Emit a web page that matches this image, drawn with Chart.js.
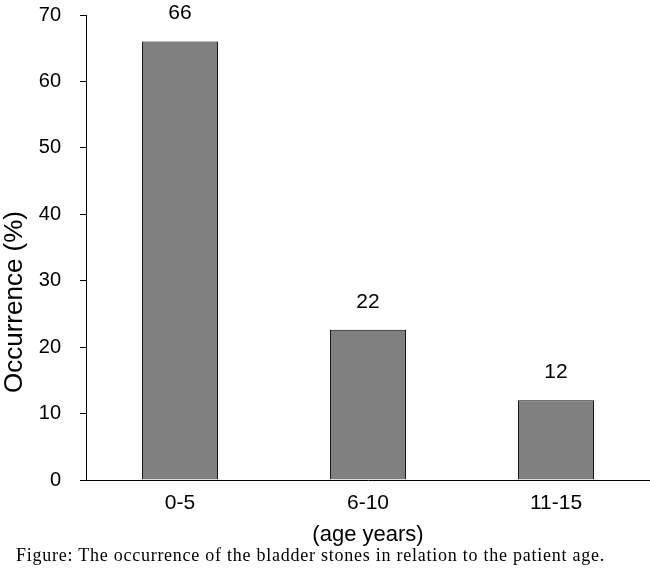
<!DOCTYPE html>
<html>
<head>
<meta charset="utf-8">
<script src="https://cdn.jsdelivr.net/npm/chart.js@4.4.1/dist/chart.umd.min.js"></script>
<style>
  body { margin: 0; background: #fff; }
  #wrap { position: relative; width: 650px; height: 572px; }
  #caption {
    position: absolute; left: 16px; top: 545px;
    font-family: "Liberation Serif", serif; font-size: 18px; line-height: 20px;
    letter-spacing: 0.75px;
    color: #000; white-space: nowrap;
  }
</style>
</head>
<body>
<div id="wrap">
  <canvas id="myChart" width="650" height="572"></canvas>
  <div id="caption">Figure: The occurrence of the bladder stones in relation to the patient age.</div>
</div>
<script>
const categories = ["0-5", "6-10", "11-15"];
const occurrence = [66, 22.6, 12]; // bar heights
const valueLabels = ["66", "22", "12"]; // numbers printed above bars
const yTicks = [0, 10, 20, 30, 40, 50, 60, 70];

// numbers above the bars + rotated y title
const labelPlugin = {
  id: "barLabels",
  afterDatasetsDraw(chart) {
    const ctx = chart.ctx;
    const meta = chart.getDatasetMeta(0);
    ctx.save();
    ctx.fillStyle = "#000";
    ctx.font = "21px 'Liberation Sans', Arial";
    ctx.textAlign = "center";
    ctx.textBaseline = "middle";
    meta.data.forEach((bar, i) => {
      ctx.fillText(valueLabels[i], bar.x, bar.y - 28);
    });
    // y axis title sits lower than the axis centre in the original
    ctx.translate(15, 302);
    ctx.rotate(-Math.PI / 2);
    ctx.font = "26px 'Liberation Sans', Arial";
    ctx.fillText("Occurrence (%)", 0, 0);
    ctx.restore();
  },
};

const ctx = document.getElementById("myChart");
const myChart = new Chart(ctx, {
  type: "bar",
  data: {
    labels: categories,
    datasets: [
      {
        data: occurrence,
        backgroundColor: "#808080",
        borderColor: "#000000",
        borderWidth: 1,
        barPercentage: 0.405,
        categoryPercentage: 1,
      },
    ],
  },
  options: {
    responsive: false,
    animation: false,
    layout: {
      padding: { top: 15, left: 0, right: 0, bottom: 22 },
    },
    plugins: {
      legend: { display: false },
      tooltip: { enabled: false },
    },
    scales: {
      x: {
        grid: { display: false, drawTicks: false },
        border: { display: true, color: "#000", width: 1 },
        ticks: {
          color: "#000",
          padding: 11,
          font: { family: "'Liberation Sans', Arial", size: 21 },
        },
        title: {
          display: true,
          text: "(age years)",
          color: "#000",
          padding: { top: 0, bottom: 2 },
          font: { family: "'Liberation Sans', Arial", size: 22 },
        },
        afterFit: (scale) => {
          scale.height = 70;
          scale.paddingLeft = 0;
          scale.paddingRight = 0;
        },
      },
      y: {
        min: 0,
        max: 70,
        grid: {
          drawOnChartArea: false,
          drawTicks: true,
          tickLength: 6,
          color: "#000",
        },
        border: { display: true, color: "#000", width: 1 },
        afterBuildTicks: (scale) => {
          scale.ticks = yTicks.map((v) => ({ value: v }));
        },
        ticks: {
          color: "#000",
          padding: 19,
          font: { family: "'Liberation Sans', Arial", size: 20 },
        },
        afterFit: (scale) => {
          scale.width = 86;
          scale.paddingTop = 0;
          scale.paddingBottom = 0;
        },
      },
    },
  },
  plugins: [labelPlugin],
});
</script>
</body>
</html>
